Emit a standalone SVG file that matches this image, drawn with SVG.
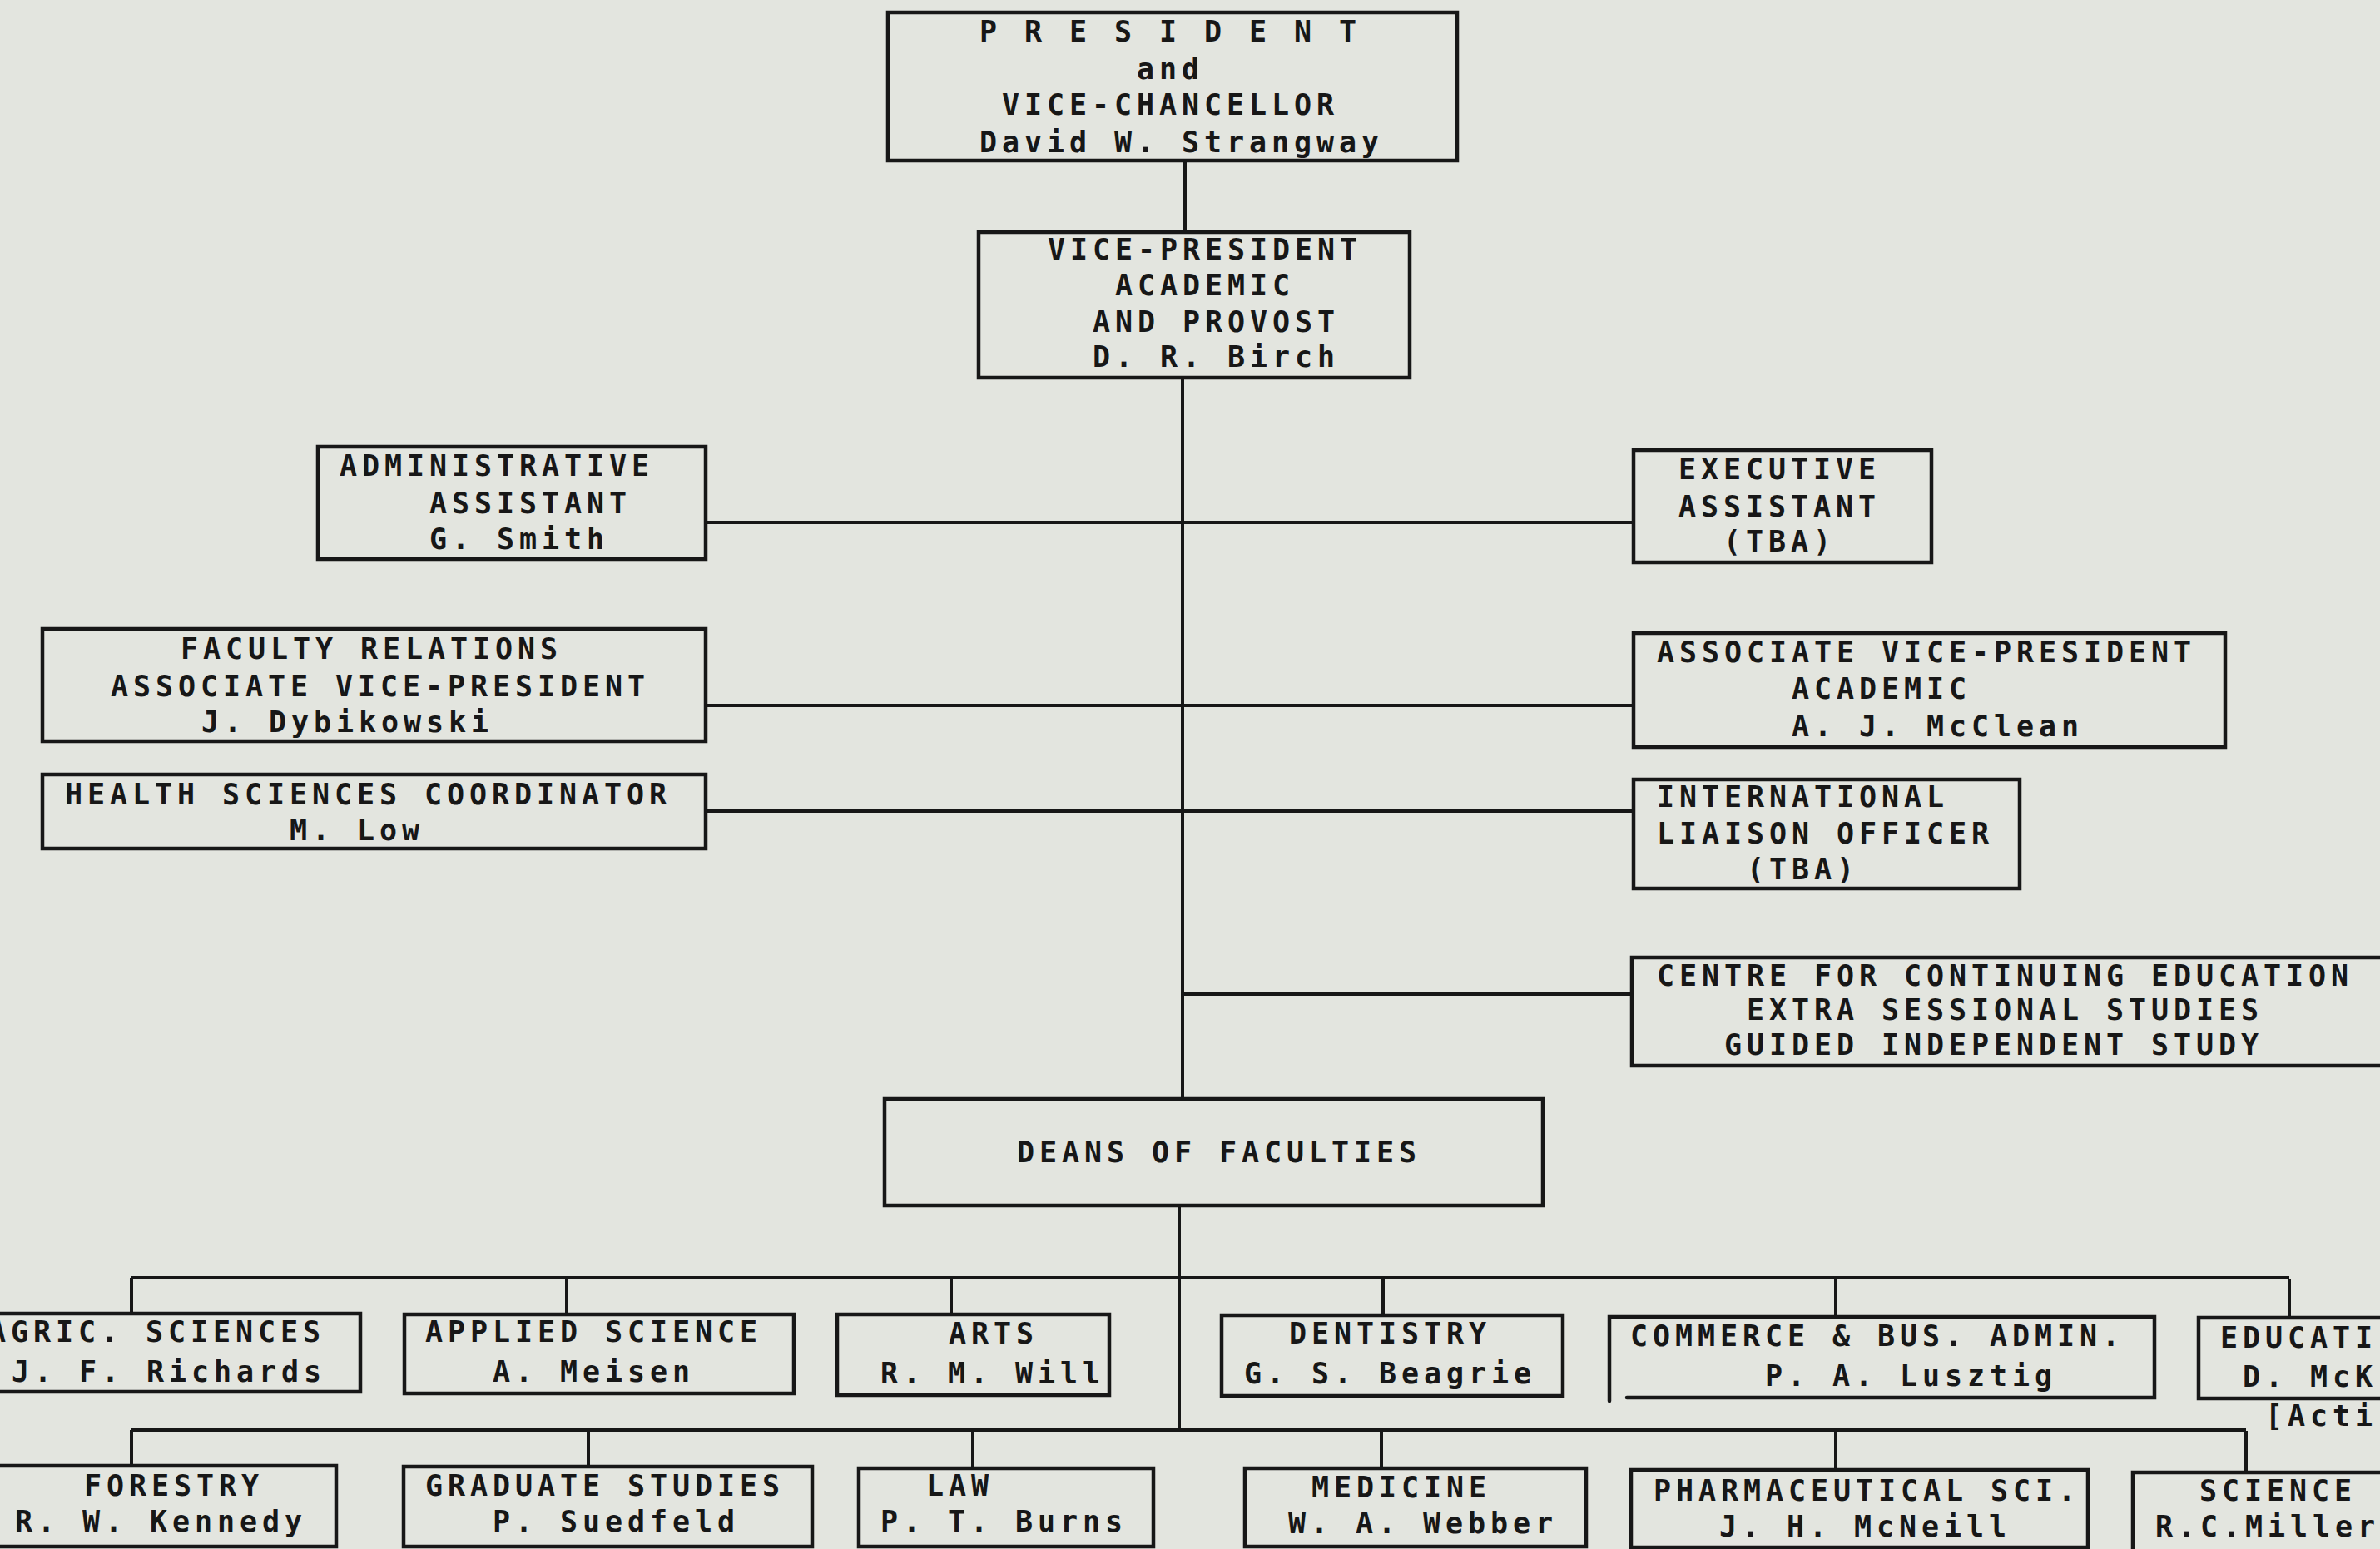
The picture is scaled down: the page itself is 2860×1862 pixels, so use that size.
<svg xmlns="http://www.w3.org/2000/svg" width="2860" height="1862" viewBox="0 0 2860 1862">
<style>
.b{fill:none;stroke:#171717;stroke-width:4.5;stroke-linecap:round}
.c{fill:none;stroke:#171717;stroke-width:4}
.t{font-family:"DejaVu Sans Mono","Liberation Mono",monospace;font-weight:bold;font-size:35px;letter-spacing:5.93px;fill:#171717}
</style>
<rect x="0" y="0" width="2860" height="1862" fill="#e3e5df"/>
<g id="connectors" class="c">
<path d="M1424,193 V279"/>
<path d="M1421,454 V1321"/>
<path d="M848,628 H1964"/>
<path d="M848,848 H1963"/>
<path d="M848,975 H1963"/>
<path d="M1421,1195 H1961"/>
<path d="M1417,1449 V1720"/>
<path d="M158,1536 H2751"/>
<path d="M158,1719 H2699"/>
<path d="M158,1536 V1580 M681,1536 V1580 M1143,1537 V1580 M1662,1537 V1580 M2206,1537 V1583 M2751,1537 V1584"/>
<path d="M158,1719 V1762 M707,1719 V1763 M1169,1719 V1765 M1660,1720 V1765 M2206,1720 V1767 M2699,1720 V1770"/>
</g>
<g id="president">
<rect class="b" x="1067" y="15" width="684" height="178"/>
<text class="t" x="1177" y="50">P R E S I D E N T</text>
<text class="t" x="1366" y="95">and</text>
<text class="t" x="1204" y="138">VICE-CHANCELLOR</text>
<text class="t" x="1177" y="183">David W. Strangway</text>
</g>
<g id="vp-academic">
<rect class="b" x="1176" y="279" width="518" height="175"/>
<text class="t" x="1259" y="312">VICE-PRESIDENT</text>
<text class="t" x="1340" y="355">ACADEMIC</text>
<text class="t" x="1313" y="399">AND PROVOST</text>
<text class="t" x="1313" y="441">D. R. Birch</text>
</g>
<g id="admin-assistant">
<rect class="b" x="382" y="537" width="466" height="135"/>
<text class="t" x="408" y="572">ADMINISTRATIVE</text>
<text class="t" x="516" y="617">ASSISTANT</text>
<text class="t" x="516" y="660">G. Smith</text>
</g>
<g id="faculty-relations">
<rect class="b" x="51" y="756" width="797" height="135"/>
<text class="t" x="217" y="792">FACULTY RELATIONS</text>
<text class="t" x="133" y="837">ASSOCIATE VICE-PRESIDENT</text>
<text class="t" x="242" y="880">J. Dybikowski</text>
</g>
<g id="health-sciences">
<rect class="b" x="51" y="931" width="797" height="89"/>
<text class="t" x="78" y="967">HEALTH SCIENCES COORDINATOR</text>
<text class="t" x="348" y="1010">M. Low</text>
</g>
<g id="executive-assistant">
<rect class="b" x="1963" y="541" width="358" height="135"/>
<text class="t" x="2017" y="576">EXECUTIVE</text>
<text class="t" x="2017" y="621">ASSISTANT</text>
<text class="t" x="2071" y="663">(TBA)</text>
</g>
<g id="assoc-vp-academic">
<rect class="b" x="1963" y="761" width="711" height="137"/>
<text class="t" x="1991" y="796">ASSOCIATE VICE-PRESIDENT</text>
<text class="t" x="2153" y="840">ACADEMIC</text>
<text class="t" x="2153" y="885">A. J. McClean</text>
</g>
<g id="international-liaison">
<rect class="b" x="1963" y="937" width="464" height="131"/>
<text class="t" x="1991" y="970">INTERNATIONAL</text>
<text class="t" x="1991" y="1014">LIAISON OFFICER</text>
<text class="t" x="2099" y="1057">(TBA)</text>
</g>
<g id="continuing-education">
<path class="b" d="M2880,1151 H1961 V1281 H2880"/>
<text class="t" x="1991" y="1185">CENTRE FOR CONTINUING EDUCATION</text>
<text class="t" x="2099" y="1226">EXTRA SESSIONAL STUDIES</text>
<text class="t" x="2072" y="1268">GUIDED INDEPENDENT STUDY</text>
</g>
<g id="deans">
<rect class="b" x="1063" y="1321" width="791" height="128"/>
<text class="t" x="1222" y="1397">DEANS OF FACULTIES</text>
</g>
<g id="agric">
<path class="b" d="M-10,1579 H433 V1673 H-10"/>
<text class="t" x="-14" y="1613">AGRIC. SCIENCES</text>
<text class="t" x="14" y="1661">J. F. Richards</text>
</g>
<g id="applied-science">
<rect class="b" x="486" y="1580" width="468" height="95"/>
<text class="t" x="511" y="1613">APPLIED SCIENCE</text>
<text class="t" x="592" y="1661">A. Meisen</text>
</g>
<g id="arts">
<rect class="b" x="1006" y="1580" width="327" height="97"/>
<text class="t" x="1140" y="1615">ARTS</text>
<text class="t" x="1058" y="1663">R. M. Will</text>
</g>
<g id="dentistry">
<rect class="b" x="1468" y="1581" width="410" height="97"/>
<text class="t" x="1549" y="1615">DENTISTRY</text>
<text class="t" x="1495" y="1663">G. S. Beagrie</text>
</g>
<g id="commerce">
<path class="b" d="M1934,1684 V1583 H2589 V1680 H1955"/>
<text class="t" x="1959" y="1618">COMMERCE &amp; BUS. ADMIN.</text>
<text class="t" x="2121" y="1666">P. A. Lusztig</text>
</g>
<g id="education">
<path class="b" d="M2880,1584 H2642 V1681 H2880"/>
<text class="t" x="2668" y="1620">EDUCATI</text>
<text class="t" x="2695" y="1667">D. McK</text>
<text class="t" x="2722" y="1714">[Acti</text>
</g>
<g id="forestry">
<path class="b" d="M-10,1762 H404 V1859 H-10"/>
<text class="t" x="101" y="1798">FORESTRY</text>
<text class="t" x="18" y="1841">R. W. Kennedy</text>
</g>
<g id="graduate-studies">
<rect class="b" x="485" y="1763" width="491" height="96"/>
<text class="t" x="511" y="1798">GRADUATE STUDIES</text>
<text class="t" x="592" y="1841">P. Suedfeld</text>
</g>
<g id="law">
<rect class="b" x="1032" y="1765" width="354" height="94"/>
<text class="t" x="1113" y="1798">LAW</text>
<text class="t" x="1058" y="1841">P. T. Burns</text>
</g>
<g id="medicine">
<rect class="b" x="1496" y="1765" width="410" height="94"/>
<text class="t" x="1576" y="1800">MEDICINE</text>
<text class="t" x="1548" y="1843">W. A. Webber</text>
</g>
<g id="pharmaceutical">
<rect class="b" x="1960" y="1767" width="549" height="93"/>
<text class="t" x="1987" y="1804">PHARMACEUTICAL SCI.</text>
<text class="t" x="2066" y="1847">J. H. McNeill</text>
</g>
<g id="science">
<path class="b" d="M2880,1770 H2563 V1862"/>
<text class="t" x="2643" y="1804">SCIENCE</text>
<text class="t" x="2590" y="1847">R.C.Miller</text>
</g>
</svg>
